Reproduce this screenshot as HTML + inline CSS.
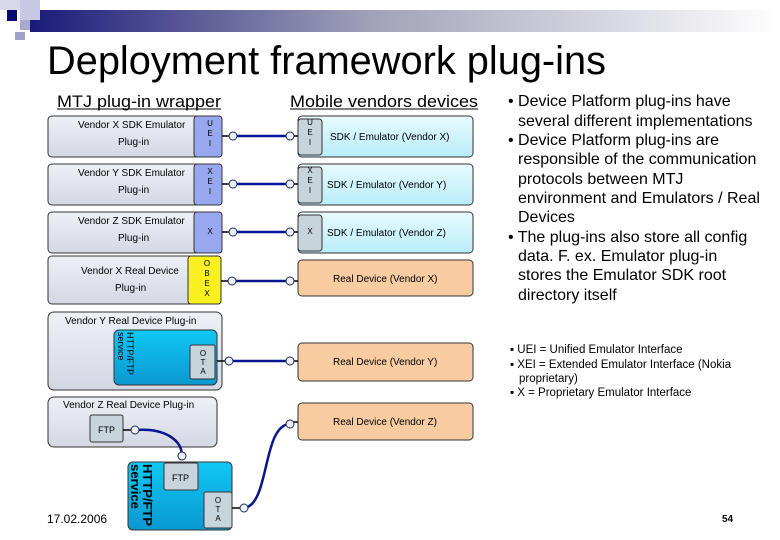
<!DOCTYPE html>
<html><head><meta charset="utf-8"><style>
html,body{margin:0;padding:0;background:#fff;}
svg{display:block;font-family:"Liberation Sans",Arial,sans-serif;}
</style></head><body>
<svg width="780" height="540" viewBox="0 0 780 540" xmlns="http://www.w3.org/2000/svg">
<defs>
<linearGradient id="bar" x1="0" x2="1" y1="0" y2="0">
<stop offset="0" stop-color="#1a1a7a"/><stop offset="0.45" stop-color="#a0a0b8"/><stop offset="1" stop-color="#ffffff"/>
</linearGradient>
<linearGradient id="grey" x1="0" x2="0" y1="0" y2="1">
<stop offset="0" stop-color="#eef0f6"/><stop offset="1" stop-color="#d4d8e4"/>
</linearGradient>
<linearGradient id="cyan" x1="0" x2="0" y1="0" y2="1">
<stop offset="0" stop-color="#e8fbff"/><stop offset="1" stop-color="#b8ecf8"/>
</linearGradient>
<linearGradient id="blue" x1="0" x2="0" y1="0" y2="1">
<stop offset="0" stop-color="#10c8f4"/><stop offset="1" stop-color="#0a98d0"/>
</linearGradient>
</defs>
<rect x="30" y="10" width="750" height="22" fill="url(#bar)"/>
<rect x="0" y="0" width="40" height="10" fill="#d8d8ec"/>
<rect x="7" y="10" width="10" height="11" fill="#0a0a70"/>
<rect x="20" y="0" width="20" height="20" fill="#c8c8e4"/>
<rect x="20" y="20" width="10" height="10" fill="#a8a8d0"/>
<rect x="15" y="32" width="10" height="8" fill="#a0a0c8"/>
<text x="47" y="74" font-size="40" fill="#000" textLength="559" lengthAdjust="spacingAndGlyphs">Deployment framework plug-ins</text>
<text x="57" y="107" font-size="17" textLength="164" lengthAdjust="spacingAndGlyphs">MTJ plug-in wrapper</text>
<line x1="57" y1="109" x2="221" y2="109" stroke="#000"/>
<text x="290" y="107" font-size="17" textLength="188" lengthAdjust="spacingAndGlyphs">Mobile vendors devices</text>
<line x1="290" y1="109" x2="478" y2="109" stroke="#000"/>

<g stroke="#333" stroke-width="1">
<rect x="48" y="116" width="174" height="41" rx="4" fill="url(#grey)"/>
<rect x="194" y="116" width="28" height="41" rx="3" fill="#98a8f0"/>
<rect x="48" y="164" width="174" height="41" rx="4" fill="url(#grey)"/>
<rect x="194" y="164" width="28" height="41" rx="3" fill="#98a8f0"/>
<rect x="48" y="212" width="174" height="41" rx="4" fill="url(#grey)"/>
<rect x="194" y="212" width="28" height="41" rx="3" fill="#98a8f0"/>
<rect x="48" y="256" width="173" height="48" rx="4" fill="url(#grey)"/>
<rect x="188" y="256" width="33" height="48" rx="3" fill="#f8f020"/>
<rect x="298" y="116" width="175" height="41" rx="4" fill="url(#cyan)"/>
<rect x="298" y="119" width="24" height="36" rx="3" fill="#c8d4dc"/>
<rect x="298" y="164" width="175" height="41" rx="4" fill="url(#cyan)"/>
<rect x="298" y="167" width="24" height="36" rx="3" fill="#c8d4dc"/>
<rect x="298" y="212" width="175" height="41" rx="4" fill="url(#cyan)"/>
<rect x="298" y="215" width="24" height="36" rx="3" fill="#c8d4dc"/>
<rect x="298" y="260" width="175" height="36" rx="4" fill="#f8cca0"/>
<rect x="298" y="343" width="175" height="38" rx="4" fill="#f8cca0"/>
<rect x="298" y="403" width="175" height="37" rx="4" fill="#f8cca0"/>
<rect x="48" y="312" width="174" height="78" rx="6" fill="url(#grey)"/>
<rect x="114" y="330" width="103" height="55" rx="5" fill="url(#blue)"/>
<rect x="190" y="345" width="25" height="34" rx="2" fill="#c8d4dc"/>
<rect x="48" y="397" width="169" height="50" rx="6" fill="url(#grey)"/>
<rect x="90" y="415" width="33" height="27" rx="2" fill="#c8d4dc"/>
<rect x="128" y="462" width="104" height="68" rx="5" fill="url(#blue)"/>
<rect x="164" y="463" width="34" height="27" rx="2" fill="#c8d4dc"/>
<rect x="204" y="492" width="28" height="36" rx="2" fill="#c8d4dc"/>
</g>

<g stroke="#0a1490" stroke-width="2.5" fill="none">
<line x1="233" y1="136" x2="290" y2="136"/>
<line x1="233" y1="184" x2="290" y2="184"/>
<line x1="233" y1="232" x2="290" y2="232"/>
<line x1="232" y1="281" x2="290" y2="281"/>
<line x1="229" y1="361" x2="290" y2="361"/>
<path d="M136 430 C165 428 182 440 182 456"/>
<path d="M244 508 C270 505 262 425 290 424"/>
</g>
<g stroke="#000" stroke-width="1.5">
<line x1="222" y1="136" x2="229" y2="136"/><line x1="222" y1="184" x2="229" y2="184"/>
<line x1="222" y1="232" x2="229" y2="232"/><line x1="221" y1="281" x2="228" y2="281"/>
<line x1="217" y1="361" x2="225" y2="361"/><line x1="123" y1="430" x2="132" y2="430"/>
<line x1="232" y1="508" x2="240" y2="508"/>
<line x1="293" y1="136" x2="298" y2="136"/><line x1="293" y1="184" x2="298" y2="184"/>
<line x1="293" y1="232" x2="298" y2="232"/><line x1="293" y1="281" x2="298" y2="281"/>
<line x1="293" y1="361" x2="298" y2="361"/><line x1="293" y1="422" x2="298" y2="422"/>
</g>
<g fill="#eef0f8" stroke="#1a2a5a" stroke-width="1">
<circle cx="233" cy="136" r="4"/><circle cx="290" cy="136" r="4"/>
<circle cx="233" cy="184" r="4"/><circle cx="290" cy="184" r="4"/>
<circle cx="233" cy="232" r="4"/><circle cx="290" cy="232" r="4"/>
<circle cx="232" cy="281" r="4"/><circle cx="290" cy="281" r="4"/>
<circle cx="229" cy="361" r="4"/><circle cx="290" cy="361" r="4"/>
<circle cx="135" cy="430" r="4"/><circle cx="182" cy="456" r="4"/>
<circle cx="244" cy="508" r="4"/><circle cx="290" cy="424" r="4"/>
</g>

<g font-size="10" fill="#000">
<text x="78" y="128">Vendor X SDK Emulator</text><text x="118" y="145">Plug-in</text>
<text x="78" y="176">Vendor Y SDK Emulator</text><text x="118" y="193">Plug-in</text>
<text x="78" y="224">Vendor Z SDK Emulator</text><text x="118" y="241">Plug-in</text>
<text x="81" y="274">Vendor X Real Device</text><text x="115" y="291">Plug-in</text>
<text x="65" y="324">Vendor Y Real Device Plug-in</text>
<text x="63" y="408">Vendor Z Real Device Plug-in</text>
<text x="98" y="433" font-size="9">FTP</text>
<text x="172" y="481" font-size="9">FTP</text>
<text x="330" y="140">SDK / Emulator (Vendor X)</text>
<text x="327" y="188">SDK / Emulator (Vendor Y)</text>
<text x="327" y="236">SDK / Emulator (Vendor Z)</text>
<text x="333" y="282">Real Device (Vendor X)</text>
<text x="333" y="365">Real Device (Vendor Y)</text>
<text x="333" y="425">Real Device (Vendor Z)</text>
</g>
<g font-size="8" text-anchor="middle" fill="#000">
<text x="210" y="126">U</text><text x="210" y="136">E</text><text x="210" y="146">I</text>
<text x="210" y="174">X</text><text x="210" y="184">E</text><text x="210" y="194">I</text>
<text x="210" y="234">X</text>
<text x="310" y="125">U</text><text x="310" y="135">E</text><text x="310" y="145">I</text>
<text x="310" y="173">X</text><text x="310" y="183">E</text><text x="310" y="193">I</text>
<text x="310" y="234">X</text>
<text x="207" y="266">O</text><text x="207" y="276">B</text><text x="207" y="286">E</text><text x="207" y="296">X</text>
<text x="203" y="356">O</text><text x="203" y="365">T</text><text x="203" y="374">A</text>
<text x="218" y="503">O</text><text x="218" y="512">T</text><text x="218" y="521">A</text>
</g>
<text transform="translate(127,332) rotate(90)" font-size="9">HTTP/FTP</text>
<text transform="translate(118,332) rotate(90)" font-size="9">service</text>
<text transform="translate(143,464) rotate(90)" font-size="13" font-weight="bold">HTTP/FTP</text>
<text transform="translate(131,464) rotate(90)" font-size="13" font-weight="bold">service</text>

<text x="47" y="523" font-size="12">17.02.2006</text>
<text x="722" y="522" font-size="10" font-weight="bold">54</text>

<g font-size="16" fill="#000">
<text x="508" y="106">• Device Platform plug-ins have</text>
<text x="518" y="126">several different implementations</text>
<text x="508" y="145">• Device Platform plug-ins are</text>
<text x="518" y="164">responsible of the communication</text>
<text x="518" y="184">protocols between MTJ</text>
<text x="518" y="203">environment and Emulators / Real</text>
<text x="518" y="222">Devices</text>
<text x="508" y="242">• The plug-ins also store all config</text>
<text x="518" y="261">data. F. ex. Emulator plug-in</text>
<text x="518" y="280">stores the Emulator SDK root</text>
<text x="518" y="300">directory itself</text>
</g>
<g font-size="11.5" fill="#000">
<text x="510" y="353">▪ UEI = Unified Emulator Interface</text>
<text x="510" y="368">▪ XEI = Extended Emulator Interface (Nokia</text>
<text x="519" y="382">proprietary)</text>
<text x="510" y="396">▪ X = Proprietary Emulator Interface</text>
</g>
</svg>
</body></html>
